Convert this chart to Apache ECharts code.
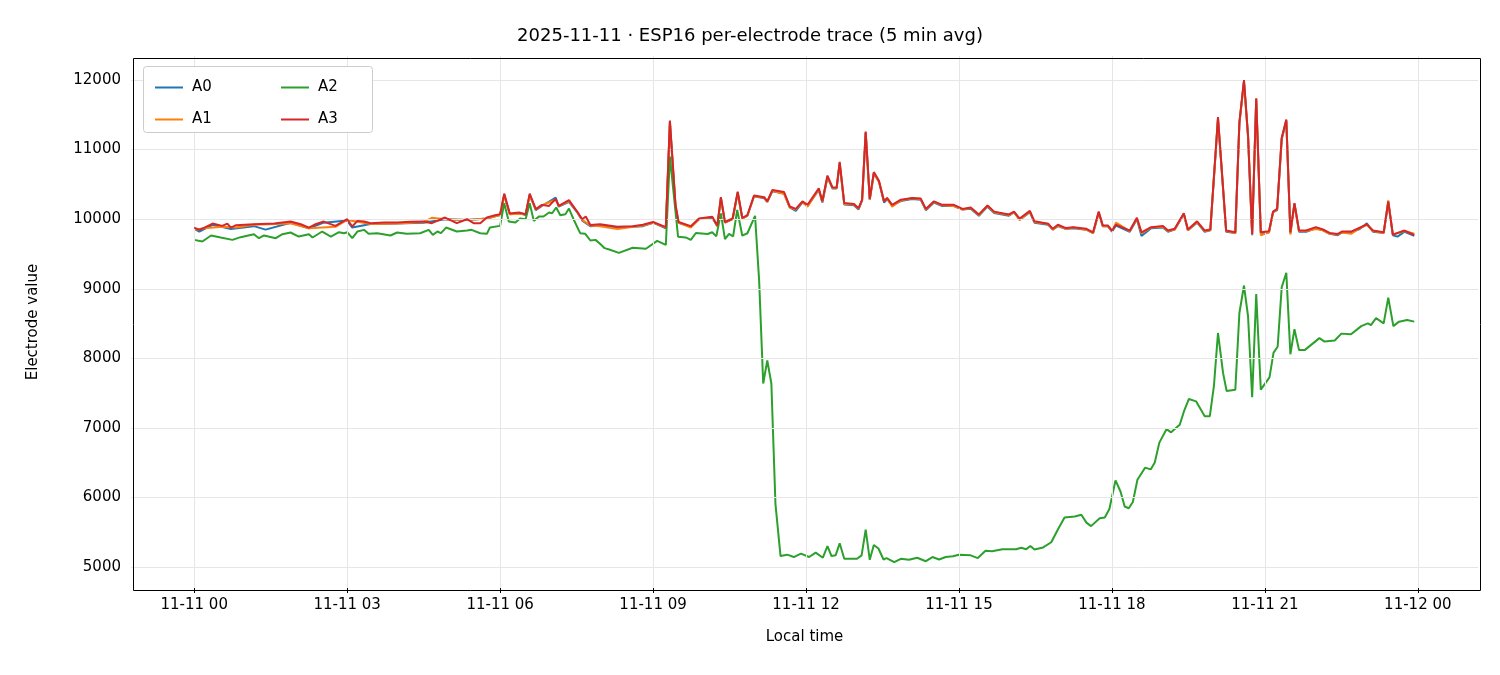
<!DOCTYPE html>
<html><head><meta charset="utf-8">
<script src="https://cdn.jsdelivr.net/npm/echarts@6/dist/echarts.min.js"></script>
<style>html,body{margin:0;padding:0;background:#fff}#c{width:1500px;height:675px}</style>
</head><body><div id="c"></div>
<script>
// [hour of day, value]
const A3 = [[0,9880],[0.1,9847],[0.2,9880],[0.36,9937],[0.55,9904],[0.65,9937],[0.72,9880],[0.82,9914],[1.17,9928],[1.57,9937],[1.89,9966],[2.09,9928],[2.25,9880],[2.38,9928],[2.54,9966],[2.77,9904],[3.0,10000],[3.1,9895],[3.2,9976],[3.33,9966],[3.46,9943],[3.72,9952],[3.98,9952],[4.24,9962],[4.5,9966],[4.66,9943],[4.92,10024],[5.15,9943],[5.35,10000],[5.48,9943],[5.61,9943],[5.74,10024],[5.9,10057],[6.0,10072],[6.08,10368],[6.19,10081],[6.37,10096],[6.5,10072],[6.58,10368],[6.7,10144],[6.82,10206],[6.96,10191],[7.09,10292],[7.15,10191],[7.35,10273],[7.52,10100],[7.61,10000],[7.68,10038],[7.77,9918],[7.96,9928],
[8.3,9890],[8.6,9900],[8.8,9920],[9.0,9960],[9.25,9886],[9.33,11417],[9.44,10207],[9.5,9960],[9.74,9900],[9.9,10010],[10.16,10035],[10.26,9911],[10.33,10316],[10.41,9960],[10.56,10010],[10.66,10395],[10.75,10020],[10.85,10060],[10.98,10340],[11.18,10316],[11.24,10257],[11.34,10420],[11.57,10390],[11.68,10183],[11.8,10148],[11.93,10257],[12.03,10207],[12.25,10444],[12.32,10257],[12.42,10627],[12.52,10454],[12.6,10454],[12.66,10825],[12.75,10232],[12.94,10217],[13.03,10158],[13.1,10281],[13.17,11259],[13.25,10291],[13.33,10677],[13.43,10553],[13.53,10257],[13.59,10306],[13.69,10207],[13.86,10281],[14.08,10306],[14.25,10296],[14.35,10148],[14.51,10257],[14.67,10207],[14.9,10207],[15.07,10148],[15.23,10168],[15.39,10069],[15.56,10197],[15.69,10109],[15.98,10069],[16.08,10109],[16.19,10010],[16.39,10119],[16.48,9970],[16.75,9936],[16.84,9862],[16.94,9921],[17.1,9872],[17.24,9886],[17.5,9862],[17.63,9812],[17.74,10109],[17.82,9911],[17.92,9911],[18.0,9837],[18.08,9921],[18.35,9837],[18.49,10020],[18.58,9812],[18.77,9886],[19.0,9901],[19.1,9837],[19.23,9862],[19.41,10084],[19.49,9852],[19.67,9970],[19.82,9837],[19.93,9852],[20.08,11467],[20.24,9837],[20.42,9812],[20.5,11393],[20.59,12000],[20.67,11195],[20.75,9788],[20.83,11738],[20.92,9812],[21.08,9827],[21.16,10109],[21.24,10148],[21.33,11170],[21.42,11432],[21.5,9812],[21.58,10232],[21.67,9837],[21.81,9837],[22.0,9886],[22.14,9852],[22.27,9802],[22.43,9788],[22.51,9822],[22.69,9822],[22.86,9877],[23.0,9926],[23.12,9837],[23.33,9812],[23.42,10257],[23.51,9778],[23.74,9837],[23.93,9773]];
const A0 = [[0,9860],[0.1,9820],[0.36,9920],[0.72,9860],[1.17,9900],[1.4,9850],[1.89,9950],[2.25,9870],[2.54,9950],[3.0,9980],[3.1,9880],[3.46,9930],[3.98,9940],[4.5,9950],[4.92,10000],[5.35,9990],[5.74,10010],[6.0,10060],[6.08,10350],[6.19,10070],[6.37,10090],[6.5,10060],[6.58,10350],[6.7,10130],[6.82,10190],[7.09,10310],[7.15,10180],[7.35,10250],[7.52,10090],[7.61,9980],[7.77,9900],[7.96,9910],[8.3,9880],[8.8,9900],[9.0,9950],[9.25,9870],[9.33,11380],[9.44,10180],[9.5,9950],[9.74,9890],[9.9,10000],[10.16,10020],[10.26,9900],[10.33,10300],[10.41,9950],[10.56,10000],[10.66,10380],[10.75,10010],[10.85,10050],[10.98,10330],[11.18,10300],[11.24,10250],[11.34,10400],[11.57,10370],[11.68,10170],[11.8,10120],[11.93,10240],[12.03,10190],[12.25,10420],[12.32,10240],[12.42,10600],[12.52,10440],[12.6,10440],[12.66,10800],[12.75,10210],[12.94,10200],[13.03,10140],[13.1,10270],[13.17,11240],[13.25,10280],[13.33,10660],[13.43,10540],[13.53,10240],[13.59,10290],[13.69,10200],[13.86,10260],[14.08,10290],[14.25,10280],[14.35,10130],[14.51,10240],[14.67,10190],[14.9,10190],[15.07,10140],[15.23,10150],[15.39,10050],[15.56,10180],[15.69,10090],[15.98,10050],[16.08,10100],[16.19,9990],[16.39,10100],[16.48,9950],[16.75,9920],[16.84,9850],[16.94,9900],[17.1,9860],[17.24,9870],[17.5,9850],[17.63,9800],[17.74,10090],[17.82,9900],[17.92,9900],[18.0,9820],[18.08,9910],[18.35,9820],[18.49,10000],[18.58,9760],[18.77,9870],[19.0,9880],[19.1,9820],[19.23,9850],[19.41,10070],[19.49,9840],[19.67,9950],[19.82,9820],[19.93,9840],[20.08,11440],[20.24,9820],[20.42,9800],[20.5,11380],[20.59,11980],[20.67,11180],[20.75,9770],[20.83,11720],[20.92,9800],[21.08,9810],[21.16,10100],[21.24,10130],[21.33,11150],[21.42,11410],[21.5,9800],[21.58,10220],[21.67,9820],[21.81,9820],[22.0,9870],[22.14,9840],[22.27,9790],[22.43,9770],[22.51,9810],[22.69,9810],[22.86,9860],[23.0,9940],[23.12,9820],[23.33,9800],[23.42,10240],[23.51,9770],[23.6,9750],[23.74,9820],[23.93,9760]];
const A1 = [[0,9850],[0.2,9870],[0.55,9890],[0.82,9880],[1.17,9920],[1.89,9940],[2.25,9870],[2.77,9890],[3.0,9990],[3.46,9930],[3.98,9940],[4.5,9960],[4.66,10020],[4.92,10000],[5.35,9990],[5.74,10010],[6.0,10060],[6.08,10340],[6.19,10070],[6.37,10080],[6.5,10070],[6.58,10340],[6.7,10140],[6.82,10200],[7.09,10280],[7.15,10190],[7.35,10260],[7.52,10100],[7.61,9990],[7.77,9910],[7.96,9900],[8.3,9860],[8.8,9910],[9.0,9950],[9.25,9880],[9.33,11400],[9.44,10190],[9.5,9950],[9.74,9880],[9.9,10000],[10.16,10030],[10.26,9900],[10.33,10300],[10.41,9950],[10.56,10000],[10.66,10380],[10.75,10010],[10.85,10050],[10.98,10330],[11.18,10310],[11.24,10250],[11.34,10410],[11.57,10360],[11.68,10170],[11.8,10140],[11.93,10250],[12.03,10180],[12.25,10430],[12.32,10250],[12.42,10610],[12.52,10450],[12.6,10450],[12.66,10810],[12.75,10220],[12.94,10210],[13.03,10150],[13.1,10270],[13.17,11250],[13.25,10280],[13.33,10660],[13.43,10540],[13.53,10260],[13.59,10300],[13.69,10180],[13.86,10270],[14.08,10300],[14.25,10290],[14.35,10140],[14.51,10250],[14.67,10200],[14.9,10190],[15.07,10140],[15.23,10160],[15.39,10060],[15.56,10190],[15.69,10100],[15.98,10060],[16.08,10100],[16.19,9990],[16.39,10110],[16.48,9960],[16.75,9930],[16.84,9850],[16.94,9910],[17.1,9860],[17.24,9880],[17.5,9850],[17.63,9800],[17.74,10100],[17.82,9900],[17.92,9900],[18.0,9830],[18.08,9950],[18.35,9830],[18.49,10010],[18.58,9800],[18.77,9880],[19.0,9890],[19.1,9830],[19.23,9850],[19.41,10080],[19.49,9840],[19.67,9960],[19.82,9830],[19.93,9840],[20.08,11450],[20.24,9830],[20.42,9800],[20.5,11380],[20.59,11970],[20.67,11190],[20.75,9780],[20.83,11730],[20.92,9770],[21.08,9810],[21.16,10100],[21.24,10140],[21.33,11160],[21.42,11420],[21.5,9780],[21.58,10220],[21.67,9830],[21.81,9830],[22.0,9860],[22.14,9840],[22.27,9790],[22.43,9780],[22.51,9810],[22.69,9790],[22.86,9870],[23.0,9920],[23.12,9830],[23.33,9800],[23.42,10270],[23.51,9780],[23.74,9830],[23.93,9790]];
const A2 = [[0,9703],[0.16,9679],[0.33,9766],[0.52,9737],[0.75,9703],[0.91,9742],[1.17,9785],[1.27,9727],[1.37,9766],[1.6,9727],[1.73,9785],[1.89,9809],[2.05,9751],[2.25,9785],[2.32,9737],[2.51,9823],[2.68,9751],[2.84,9813],[2.94,9799],[3.0,9813],[3.1,9727],[3.2,9823],[3.33,9847],[3.42,9790],[3.59,9799],[3.85,9766],[3.98,9809],[4.17,9790],[4.43,9799],[4.6,9847],[4.68,9775],[4.77,9823],[4.84,9799],[4.94,9880],[5.15,9823],[5.35,9837],[5.44,9847],[5.61,9799],[5.74,9790],[5.8,9880],[6.0,9904],[6.08,10230],[6.17,9966],[6.3,9952],[6.39,10010],[6.5,10000],[6.58,10230],[6.66,9976],[6.76,10038],[6.85,10038],[6.96,10096],[7.02,10086],[7.1,10168],[7.18,10057],[7.28,10072],[7.35,10153],[7.44,10000],[7.57,9799],[7.67,9790],[7.77,9694],[7.87,9703],[7.96,9646],[8.05,9584],
[8.14,9565],[8.33,9516],[8.6,9590],[8.86,9575],[9.08,9689],[9.25,9630],[9.33,10900],[9.49,9748],[9.64,9738],[9.74,9704],[9.84,9802],[10.07,9788],[10.16,9812],[10.24,9753],[10.33,10084],[10.41,9714],[10.49,9788],[10.57,9753],[10.65,10133],[10.75,9763],[10.85,9798],[11.0,10049],[11.08,9121],[11.16,7640],[11.24,7970],[11.32,7640],[11.4,5911],[11.5,5160],[11.63,5180],[11.76,5146],[11.9,5195],[12.06,5146],[12.19,5210],[12.33,5136],[12.42,5304],[12.5,5160],[12.58,5170],[12.66,5343],[12.75,5121],[13.0,5121],[13.09,5170],[13.17,5541],[13.25,5106],[13.33,5319],[13.42,5269],[13.52,5111],[13.58,5131],[13.73,5072],[13.86,5121],[14.02,5106],[14.18,5136],[14.35,5086],[14.48,5146],[14.61,5111],[14.74,5146],[14.88,5156],[15.0,5180],[15.23,5170],[15.37,5131],[15.52,5235],[15.65,5230],[15.85,5259],[16.12,5259],
[16.22,5279],[16.32,5259],[16.4,5304],[16.48,5254],[16.65,5284],[16.81,5358],[16.94,5541],[17.07,5714],[17.27,5728],[17.4,5753],[17.5,5640],[17.59,5590],[17.76,5704],[17.86,5714],[17.95,5837],[18.07,6247],[18.17,6084],[18.25,5872],[18.33,5847],[18.41,5936],[18.5,6257],[18.65,6430],[18.76,6405],[18.84,6504],[18.93,6790],[19.07,6983],[19.16,6938],[19.33,7047],[19.42,7254],[19.51,7417],[19.65,7383],[19.82,7170],[19.92,7170],[20.0,7600],[20.08,8365],[20.18,7788],[20.25,7531],[20.42,7551],[20.5,8652],[20.59,9047],[20.67,8602],[20.75,7442],[20.83,8923],[20.92,7551],[21.09,7728],[21.17,8084],[21.25,8168],[21.33,9022],[21.42,9230],[21.5,8059],[21.58,8420],[21.67,8119],[21.78,8119],[22.07,8291],[22.17,8242],[22.37,8257],[22.5,8356],[22.69,8346],[22.89,8464],[23.02,8504],[23.08,8479],[23.18,8578],[23.33,8504],[23.42,8874],[23.52,8464],[23.63,8528],[23.79,8553],[23.93,8528]];
const xTicks = [0,3,6,9,12,15,18,21,24];
const xTickLabels = ['11-11 00','11-11 03','11-11 06','11-11 09','11-11 12','11-11 15','11-11 18','11-11 21','11-12 00'];
const yTicks = [5000,6000,7000,8000,9000,10000,11000,12000];

const font = 'DejaVu Sans';
const chart = echarts.init(document.getElementById('c'));
const mk = (name, data, color, z) => ({name, type:'line', data, showSymbol:false, symbol:'none', z,
  lineStyle:{color, width:2}, itemStyle:{color}, animation:false});
const gridLines = {type:'line', data:[], silent:true, z:1, markLine:{symbol:'none', silent:true, animation:false, label:{show:false},
  lineStyle:{color:'#e6e6e6', width:1, type:'solid'},
  data: xTicks.map(v=>({xAxis:v})).concat(yTicks.map(v=>({yAxis:v})))}};
chart.setOption({
  backgroundColor:'#fff',
  animation:false,
  title:{text:'2025-11-11 · ESP16 per-electrode trace (5 min avg)', left:'center', top:22,
    textStyle:{fontFamily:font, fontSize:18, fontWeight:'normal', color:'#000'}},
  grid:{left:131, right:22, top:56, bottom:87},
  graphic:[{type:'rect', left:143, top:66, shape:{width:229, height:66, r:3}, style:{fill:'#fff', stroke:'#ccc', lineWidth:1}, z:100},
    {type:'rect', left:131, top:56, shape:{width:1347, height:532}, style:{fill:'none', stroke:'#000', lineWidth:1}, z:50, silent:true}],
  legend:[
    {data:['A0','A1'], orient:'vertical', left:150, top:75, itemWidth:28, itemHeight:2, itemGap:17, icon:'rect', z:101,
      textStyle:{fontFamily:font, fontSize:15, color:'#000', padding:[0,0,0,4]}},
    {data:['A2','A3'], orient:'vertical', left:276, top:75, itemWidth:28, itemHeight:2, itemGap:17, icon:'rect', z:101,
      textStyle:{fontFamily:font, fontSize:15, color:'#000', padding:[0,0,0,4]}}],
  xAxis:{type:'value', min:-1.24, max:25.18, name:'Local time', nameLocation:'middle', nameGap:42,
    nameTextStyle:{fontFamily:font, fontSize:15, color:'#000'},
    axisLine:{show:false}, splitLine:{show:false},
    axisTick:{show:true, customValues:xTicks, length:5, lineStyle:{color:'#000'}},
    axisLabel:{customValues:xTicks, fontFamily:font, fontSize:15, color:'#000', margin:10,
      formatter:v=>xTickLabels[xTicks.indexOf(Math.round(v))]}},
  yAxis:{type:'value', min:4701, max:12345, name:'Electrode value', nameLocation:'middle', nameGap:90,
    nameTextStyle:{fontFamily:font, fontSize:15, color:'#000'},
    axisLine:{show:false}, splitLine:{show:false},
    axisTick:{show:true, customValues:yTicks, length:5, lineStyle:{color:'#000'}},
    axisLabel:{customValues:yTicks, fontFamily:font, fontSize:15, color:'#000', margin:10, formatter:v=>String(v)}},
  series:[gridLines, mk('A0',A0,'#1f77b4',2), mk('A1',A1,'#ff7f0e',3), mk('A2',A2,'#2ca02c',4), mk('A3',A3,'#d62728',5)]
});
</script></body></html>
